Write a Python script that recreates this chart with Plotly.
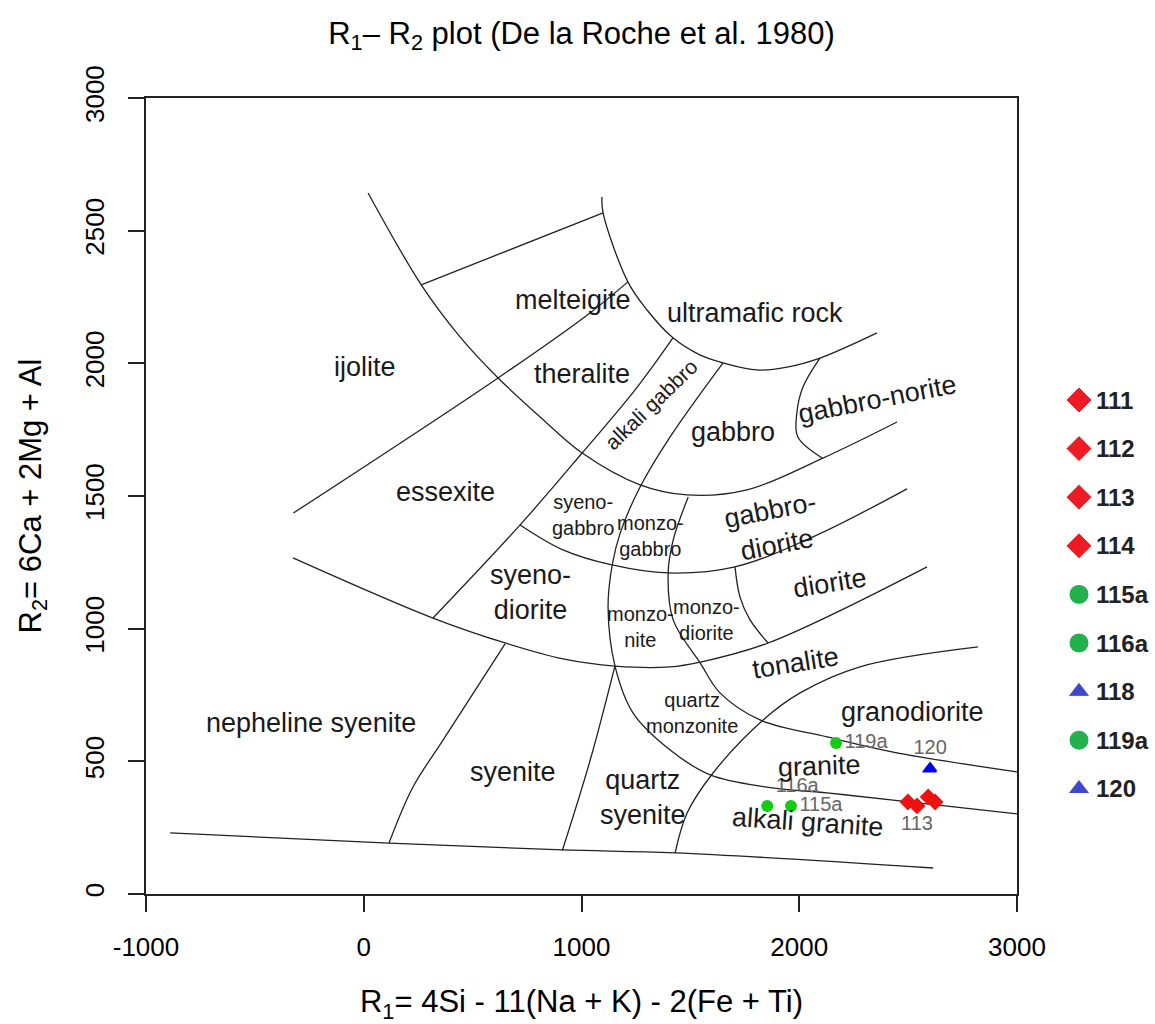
import plotly.graph_objects as go

# Boundary curves of the R1-R2 fields
arc_gabbro_x = [20, 264, 442, 617, 810, 1003, 1269, 1484, 1760, 2109, 2449]
arc_gabbro_y = [2642, 2296, 2100, 1945, 1798, 1662, 1542, 1504, 1523, 1643, 1779]

arc_ultramafic_x = [1094, 1099, 1213, 1301, 1420, 1543, 1650, 1806, 1944, 2095, 2357]
arc_ultramafic_y = [2627, 2567, 2307, 2201, 2096, 2032, 2002, 1975, 1986, 2020, 2115]

melteigite_top_x = [264, 1099]
melteigite_top_y = [2296, 2567]

essexite_top_x = [-323, 617, 1039, 1213]
essexite_top_y = [1436, 1945, 2190, 2307]

alkgabbro_left_x = [1420, 1246, 1003, 718, 318]
alkgabbro_left_y = [2096, 1900, 1662, 1391, 1040]

gabbro_diorite_low_x = [718, 915, 1140, 1397, 1705, 2063, 2495]
gabbro_diorite_low_y = [1391, 1297, 1240, 1210, 1233, 1346, 1527]

diorite_low_x = [-325, 318, 649, 915, 1154, 1407, 1545, 1857, 2587]
diorite_low_y = [1267, 1040, 946, 886, 859, 856, 874, 946, 1233]

syenite_left_x = [649, 364, 226, 116]
syenite_left_y = [943, 580, 403, 192]

qsyenite_left_x = [1154, 1040, 912]
qsyenite_left_y = [861, 505, 164]

monzo_left_x = [1650, 1407, 1269, 1178, 1141, 1122, 1154, 1237, 1407, 1591, 1852, 2128, 2431, 3000]
monzo_left_y = [2002, 1723, 1534, 1361, 1240, 1082, 859, 682, 543, 449, 403, 381, 354, 302]

monzodiorite_left_x = [1490, 1421, 1398, 1421, 1545, 1636, 1820, 2128, 2431, 3000]
monzodiorite_left_y = [1496, 1334, 1210, 1033, 871, 758, 656, 592, 535, 460]

diorite_left_x = [1705, 1728, 1774, 1857]
diorite_left_y = [1233, 1119, 1033, 946]

norite_left_x = [2095, 2017, 1989, 1993, 2105]
norite_left_y = [2020, 1911, 1813, 1723, 1643]

granite_left_x = [1430, 1485, 1604, 1834, 2004, 2279, 2821]
granite_left_y = [155, 305, 456, 656, 758, 856, 931]

base_x = [-889, 116, 912, 1430, 2615]
base_y = [230, 192, 166, 155, 98]

boundaries = [
    (arc_gabbro_x, arc_gabbro_y), (arc_ultramafic_x, arc_ultramafic_y),
    (melteigite_top_x, melteigite_top_y), (essexite_top_x, essexite_top_y),
    (alkgabbro_left_x, alkgabbro_left_y), (gabbro_diorite_low_x, gabbro_diorite_low_y),
    (diorite_low_x, diorite_low_y), (syenite_left_x, syenite_left_y),
    (qsyenite_left_x, qsyenite_left_y), (monzo_left_x, monzo_left_y),
    (monzodiorite_left_x, monzodiorite_left_y), (diorite_left_x, diorite_left_y),
    (norite_left_x, norite_left_y), (granite_left_x, granite_left_y),
    (base_x, base_y),
]

# Field names
field_names = ["melteigite", "ultramafic rock", "ijolite", "theralite", "alkali gabbro",
               "gabbro", "gabbro-norite", "essexite", "syeno-<br>gabbro", "monzo-<br>gabbro",
               "gabbro-<br>diorite", "syeno-<br>diorite", "monzo-<br>nite", "monzo-<br>diorite",
               "diorite", "tonalite", "quartz<br>monzonite", "granodiorite",
               "nepheline syenite", "syenite", "quartz<br>syenite", "granite", "alkali granite"]
field_x = [961, 1797, 6, 1002, 1320, 1697, 2360, 374, 1007, 1315,
           1880, 764, 1269, 1572, 2141, 1981, 1508, 2522,
           -242, 686, 1283, 2095, 2040]
field_y = [2239, 2190, 1986, 1960, 1843, 1741, 1865, 1515, 1429, 1349,
           1383, 1138, 1006, 1033, 1172, 871, 682, 686,
           645, 460, 362, 482, 271]
field_size = [27, 27, 27, 27, 21, 27, 27, 27, 20, 20,
              27, 27, 20, 20, 27, 27, 20, 27,
              27, 27, 27, 27, 27]
field_angle = [0, 0, 0, 0, -44, 0, -11, 0, 0, 0,
               -11, 0, 0, 0, -9, -9, 0, 0,
               0, 0, 0, -2, 4]

# Samples
samples = ["111", "112", "113", "114", "115a", "116a", "118", "119a", "120"]
r1 = [2499, 2592, 2541, 2624, 1962, 1853, 2598, 2169, 2601]
r2 = [347, 366, 332, 347, 332, 332, 470, 569, 475]
labels = ["", "", "113", "", "115a", "116a", "", "119a", "120"]
label_pos = ["bottom center", "bottom center", "bottom center", "bottom center",
             "middle right", "top right", "top center", "middle right", "top center"]
symbols = ["diamond"] * 4 + ["circle", "circle", "triangle-up", "circle", "triangle-up"]
plot_colors = ["#EE1111"] * 4 + ["#11CC11", "#11CC11", "#0000EE", "#11CC11", "#0000EE"]
legend_colors = ["#ED1C24"] * 4 + ["#22B14C", "#22B14C", "#3F48CC", "#22B14C", "#3F48CC"]

FONT = "Liberation Sans, Arial, sans-serif"

W, H = 1155, 1024
ML, MT, MB = 146, 98, 130
PLOT_W = 871
paper_w = W - ML
main_dom = PLOT_W / paper_w

fig = go.Figure()

for bx, by in boundaries:
    fig.add_trace(go.Scatter(x=bx, y=by, mode="lines", line=dict(color="#222222", width=1.3),
                             line_shape="spline", showlegend=False, hoverinfo="skip"))

for i in range(len(field_names)):
    fig.add_annotation(x=field_x[i], y=field_y[i], text=field_names[i], showarrow=False,
                       textangle=field_angle[i],
                       font=dict(family=FONT, size=field_size[i], color="#1a1a1a"))

for i, s in enumerate(samples):
    has_label = labels[i] != ""
    fig.add_trace(go.Scatter(
        x=[r1[i]], y=[r2[i]], mode="markers+text" if has_label else "markers",
        text=[labels[i]] if has_label else None, name=s,
        textposition=label_pos[i], textfont=dict(family=FONT, size=20, color="#666666"),
        marker=dict(symbol=symbols[i], size=13 if symbols[i] != "circle" else 12,
                    color=plot_colors[i], opacity=1),
        showlegend=False))

# key at the right, drawn on its own hidden axes (pixel-like units)
key_y = [302 + 48.6 * i for i in range(len(samples))]
fig.add_trace(go.Scatter(
    x=[62] * len(samples), y=key_y, mode="markers", xaxis="x2", yaxis="y2",
    marker=dict(symbol=symbols, size=[19 if s == "triangle-up" else 20 for s in symbols],
                color=legend_colors, opacity=1),
    showlegend=False, hoverinfo="skip"))
for i, s in enumerate(samples):
    fig.add_annotation(x=77, y=key_y[i], xref="x2", yref="y2", text=s, showarrow=False,
                       xanchor="left", yanchor="middle",
                       font=dict(family=FONT, size=24, weight="bold", color="#222222"))

axis_common = dict(automargin=False, showline=True, linecolor="#222222", linewidth=2,
                   mirror=True, ticks="outside", ticklen=16, tickwidth=1.5,
                   tickcolor="#222222", showgrid=False, zeroline=False)

fig.update_layout(
    width=W, height=H,
    margin=dict(l=ML, r=0, t=MT, b=MB),
    plot_bgcolor="white", paper_bgcolor="white",
    font=dict(family=FONT, size=26, color="black"),
    showlegend=False,
    title=dict(text="R<sub>1</sub>– R<sub>2</sub> plot (De la Roche et al. 1980)",
               x=(ML + PLOT_W / 2) / W, xref="container", xanchor="center",
               y=1 - 33 / H, yanchor="middle", font=dict(size=31)),
    xaxis=dict(domain=[0, main_dom], range=[-1000, 3000],
               tickvals=[-1000, 0, 1000, 2000, 3000],
               ticktext=["-1000", "0", "1000", "2000", "3000"], ticklabelstandoff=13,
               title=dict(text="R<sub>1</sub>= 4Si - 11(Na + K) - 2(Fe + Ti)", standoff=31),
               **axis_common),
    yaxis=dict(domain=[0, 1], range=[0, 3000],
               tickvals=[0, 500, 1000, 1500, 2000, 2500, 3000],
               tickangle=-90, ticklabelstandoff=14,
               title=dict(text="R<sub>2</sub>= 6Ca + 2Mg + Al", standoff=29),
               **axis_common),
    xaxis2=dict(domain=[main_dom, 1], range=[0, W - ML - PLOT_W], visible=False,
                anchor="y2", fixedrange=True),
    yaxis2=dict(domain=[0, 1], range=[H - MT - MB, 0], visible=False,
                anchor="x2", fixedrange=True),
)

fig.write_html("out.html", post_script="document.body.style.margin='0';",
               config={"displayModeBar": False})
